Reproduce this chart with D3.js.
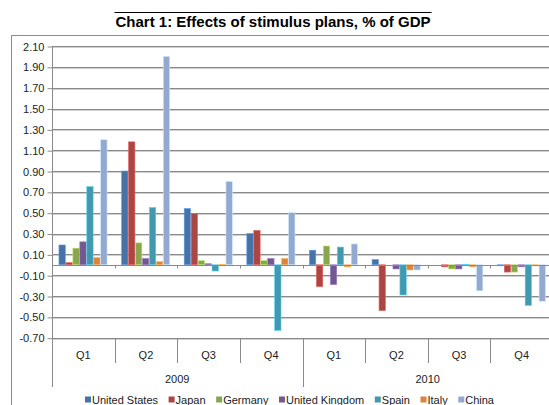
<!DOCTYPE html>
<html>
<head>
<meta charset="utf-8">
<script src="https://cdn.jsdelivr.net/npm/d3@7"></script>
<style>
  html, body { margin: 0; padding: 0; background: #fff; }
  svg { display: block; }
</style>
</head>
<body>
<svg id="chart" width="549" height="405"></svg>
<script>
// Quarterly effect of stimulus plans, % of GDP
const years = ["2009", "2010"];
const quarters = ["Q1", "Q2", "Q3", "Q4"];
const series = ["United States", "Japan", "Germany", "United Kingdom", "Spain", "Italy", "China"];
const colors = ["#4572A7", "#AA4643", "#89A54E", "#71588F", "#4198AF", "#DB843D", "#93A9CF"];

// One array per country, 8 quarters: 2009 Q1..Q4, 2010 Q1..Q4
const unitedStates  = [0.19, 0.90, 0.54, 0.30, 0.14, 0.05, 0.00, -0.01];
const japan         = [0.02, 1.18, 0.49, 0.33, -0.21, -0.44, -0.02, -0.07];
const germany       = [0.16, 0.21, 0.04, 0.04, 0.18, 0.00, -0.04, -0.07];
const unitedKingdom = [0.22, 0.06, 0.01, 0.06, -0.19, -0.04, -0.04, -0.02];
const spain         = [0.75, 0.55, -0.06, -0.63, 0.17, -0.29, 0.005, -0.39];
const italy         = [0.07, 0.03, 0.005, 0.06, -0.02, -0.05, -0.02, -0.01];
const china         = [1.20, 2.00, 0.80, 0.50, 0.20, -0.05, -0.25, -0.35];

const yTicks = [2.10, 1.90, 1.70, 1.50, 1.30, 1.10, 0.90, 0.70, 0.50, 0.30, 0.10, -0.10, -0.30, -0.50, -0.70];
const yMin = -0.70, yMax = 2.10;

const values = [unitedStates, japan, germany, unitedKingdom, spain, italy, china];
const periods = [];
years.forEach(y => quarters.forEach(q => periods.push({ year: y, quarter: q, key: y + " " + q })));

const svg = d3.select("#chart");
const font = "'Liberation Sans', Arial, sans-serif";

// Outer chart frame
svg.append("rect")
  .attr("x", 11.5).attr("y", 35.5)
  .attr("width", 600).attr("height", 400)
  .attr("fill", "none").attr("stroke", "#8c8c8c");

// Title with rule above
const title = svg.append("text")
  .attr("x", 273).attr("y", 26.5)
  .attr("text-anchor", "middle")
  .attr("font-family", "'Liberation Sans Narrow', 'Arial Narrow', sans-serif")
  .attr("font-weight", "bold")
  .attr("font-size", 15)
  .attr("fill", "#000")
  .text("Chart 1: Effects of stimulus plans, % of GDP");
const tw = title.node().getComputedTextLength();
svg.append("line")
  .attr("x1", 273 - tw / 2 - 1).attr("x2", 273 + tw / 2 + 1)
  .attr("y1", 12.5).attr("y2", 12.5)
  .attr("stroke", "#000").attr("stroke-width", 1);

const plotLeft = 52, plotRight = 553, plotTop = 46, plotBottom = 337.7;

const y = d3.scaleLinear().domain([yMin, yMax]).range([plotBottom, plotTop]);
const x0 = d3.scaleBand().domain(periods.map(p => p.key)).range([plotLeft, plotRight]).padding(0);
const bw = x0.bandwidth();
const x1 = d3.scaleBand().domain(series).range([bw / 9, bw * 8 / 9]).padding(0);

// Horizontal gridlines
const grid = svg.append("g");
yTicks.forEach(t => {
  const yy = Math.round(y(t));
  grid.append("line")
    .attr("x1", plotLeft).attr("x2", plotRight)
    .attr("y1", yy + 1.5).attr("y2", yy + 1.5)
    .attr("stroke", "#cfcfcf").attr("stroke-width", 1);
  grid.append("line")
    .attr("x1", plotLeft).attr("x2", plotRight)
    .attr("y1", yy + 0.5).attr("y2", yy + 0.5)
    .attr("stroke", "#8a8a8a").attr("stroke-width", 1);
});

// Value axis (hyphen-minus for negatives)
const fmt = d3.format(".2f");
const yAxis = d3.axisLeft(y).tickValues(yTicks)
  .tickFormat(d => fmt(d).replace("\u2212", "-"))
  .tickSize(5).tickPadding(3);
const yG = svg.append("g").attr("transform", `translate(${plotLeft + 0.5},0.5)`).call(yAxis);
yG.select(".domain").remove();
yG.selectAll(".tick line").attr("stroke", "#8a8a8a");
yG.selectAll(".tick text").attr("font-family", font).attr("font-size", 11).attr("fill", "#222");
svg.append("line")
  .attr("x1", plotLeft + 0.5).attr("x2", plotLeft + 0.5)
  .attr("y1", plotTop).attr("y2", 387)
  .attr("stroke", "#8a8a8a");

// Bars
const groups = svg.append("g").selectAll("g")
  .data(periods)
  .join("g")
  .attr("transform", p => `translate(${x0(p.key)},0)`);

groups.selectAll("rect")
  .data((p, i) => series.map((s, k) => ({ s, k, v: values[k][i] })))
  .join("rect")
  .attr("x", d => x1(d.s))
  .attr("width", x1.bandwidth() - 0.6)
  .attr("y", d => Math.min(y(d.v), y(0)))
  .attr("height", d => Math.abs(y(d.v) - y(0)))
  .attr("fill", d => colors[d.k])
  .attr("stroke", d => d3.color(colors[d.k]).brighter(0.9))
  .attr("stroke-width", 0.6);

// Zero baseline with small group ticks
const zeroY = Math.round(y(0)) + 0.5;
svg.append("line")
  .attr("x1", plotLeft).attr("x2", plotRight)
  .attr("y1", zeroY).attr("y2", zeroY)
  .attr("stroke", "#8a8a8a");
periods.forEach(p => {
  const xx = Math.round(x0(p.key)) + 0.5;
  svg.append("line")
    .attr("x1", xx).attr("x2", xx)
    .attr("y1", zeroY).attr("y2", zeroY + 3)
    .attr("stroke", "#8a8a8a");
});

// Category axis: quarter and year labels with separators
const catAxis = svg.append("g");
const bottom = Math.round(plotBottom);
periods.forEach((p, i) => {
  const xx = Math.round(x0(p.key)) + 0.5;
  const isYearStart = p.quarter === "Q1";
  catAxis.append("line")
    .attr("x1", xx).attr("x2", xx)
    .attr("y1", bottom).attr("y2", isYearStart ? 387 : 363)
    .attr("stroke", "#8a8a8a");
  catAxis.append("text")
    .attr("x", x0(p.key) + bw / 2).attr("y", 359)
    .attr("text-anchor", "middle")
    .attr("font-family", font).attr("font-size", 11).attr("fill", "#222")
    .text(p.quarter);
});
years.forEach(yr => {
  const keys = periods.filter(p => p.year === yr).map(p => p.key);
  const xa = x0(keys[0]), xb = x0(keys[keys.length - 1]) + bw;
  catAxis.append("text")
    .attr("x", (xa + xb) / 2).attr("y", 383)
    .attr("text-anchor", "middle")
    .attr("font-family", font).attr("font-size", 11).attr("fill", "#222")
    .text(yr);
});

// Legend
const legend = svg.append("g");
const items = series.map((s, k) => {
  const g = legend.append("g");
  g.append("rect").attr("width", 6).attr("height", 6).attr("y", -7).attr("fill", colors[k]);
  const t = g.append("text").attr("x", 7).attr("y", 0)
    .attr("font-family", font).attr("font-size", 11).attr("fill", "#222")
    .text(s);
  return { g, w: 7 + t.node().getComputedTextLength() };
});
const legStart = 85, legEnd = 494;
const totalW = d3.sum(items, d => d.w);
const gap = (legEnd - legStart - totalW) / (items.length - 1);
let lx = legStart;
items.forEach(it => {
  it.g.attr("transform", `translate(${lx},403.5)`);
  lx += it.w + gap;
});
</script>
</body>
</html>
